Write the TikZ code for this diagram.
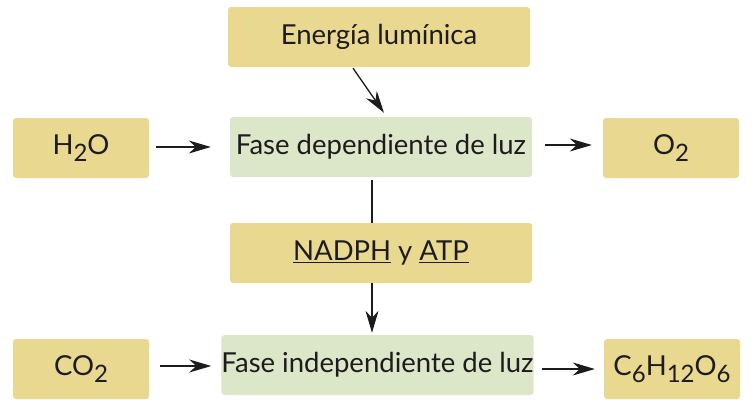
\documentclass[tikz,border=0pt]{standalone}
\usepackage{fontspec}
\setmainfont{Lato}
\usetikzlibrary{arrows.meta,calc}
\definecolor{tan}{HTML}{E8D890}
\definecolor{pgreen}{HTML}{DCE6C8}
\definecolor{ink}{HTML}{1E1B1C}
\newcommand\lsub[1]{\raisebox{-7pt}{\fontsize{24}{24}\selectfont #1}}
\begin{document}
\begin{tikzpicture}[x=1pt,y=-1pt,
  box/.style={rounded corners=3pt, inner sep=0pt, text=ink, font=\fontsize{27.5}{30}\selectfont, minimum height=60pt},
  tanbox/.style={box, fill=tan},
  grbox/.style={box, fill=pgreen},
  arr/.style={draw=ink, line width=1.3pt, -{Stealth[length=22pt,width=13pt,inset=7pt]}},
  ln/.style={draw=ink, line width=1.3pt}]
\useasboundingbox (0,0) rectangle (752,399);
\node[tanbox, minimum width=302pt] (en) at (379,37) {Energía lumínica};
\node[grbox, minimum width=302pt] (fd) at (381,147) {Fase dependiente de luz};
\node[tanbox, minimum width=136pt] (h2o) at (81,148) {H\lsub{2}O};
\node[tanbox, minimum width=136pt] (o2) at (671,148) {O\lsub{2}};
\node[tanbox, minimum width=302pt] (nad) at (381,253) {\underline{NADPH} y \underline{ATP}};
\node[grbox, minimum width=309pt] (fi) at (377.5,365) {Fase independiente de luz};
\node[tanbox, minimum width=136pt] (co2) at (81,369) {CO\lsub{2}};
\node[tanbox, minimum width=136pt] (glu) at (672,369) {C\lsub{6}H\lsub{12}O\lsub{6}};
\draw[arr] ($(en.south)+(-26,1)$) -- ($(fd.north)+(3,-4)$);
\draw[arr] ($(h2o.east)+(7,-1)$) -- ($(fd.west)+(-19,0)$);
\draw[arr] ($(fd.east)+(13,-2)$) -- ($(o2.west)+(-11,-3)$);
\draw[ln] ($(fd.south)+(-9,3)$) -- ($(nad.north)+(-9,0)$);
\draw[arr] ($(nad.south)+(-9,0)$) -- ($(fi.north)+(-5.5,-2)$);
\draw[arr] ($(co2.east)+(11,-3)$) -- ($(fi.west)+(-10,1)$);
\draw[arr] ($(fi.east)+(8,4)$) -- ($(glu.west)+(-9,0)$);
\end{tikzpicture}
\end{document}
